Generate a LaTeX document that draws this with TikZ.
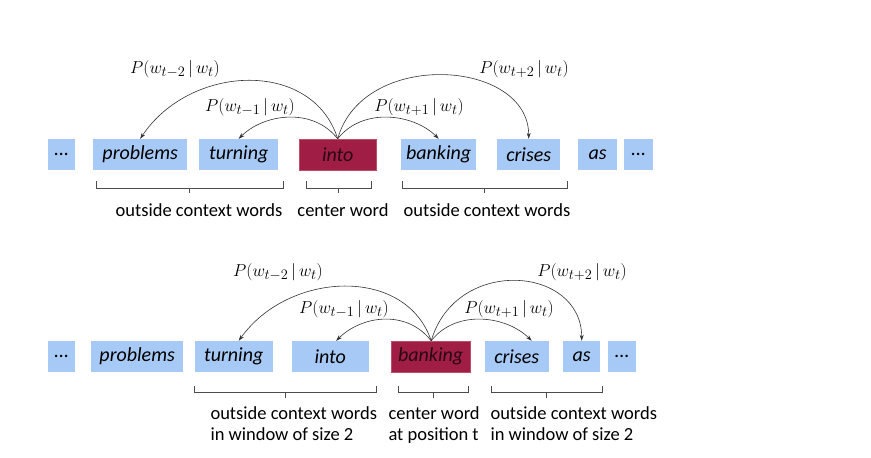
\documentclass[tikz,border=0pt]{standalone}
\usepackage{fontspec}
\setmainfont{Carlito}
\usetikzlibrary{arrows.meta}
\definecolor{wblue}{RGB}{166,201,245}
\definecolor{wred}{RGB}{160,30,70}
\begin{document}
\begin{tikzpicture}[x=1pt,y=-1pt,
  w/.style={fill=wblue,minimum height=31pt,inner sep=0pt,font=\fontsize{20}{20}\selectfont\itshape,anchor=west},
  c/.style={w,fill=wred,draw=wred!70!pink,text=black!75!wred},
  arr/.style={-{Stealth[length=6pt,width=4pt]},line width=0.6pt,black!80},
  lab/.style={font=\fontsize{19}{19}\selectfont},
  br/.style={line width=0.6pt,black!70},
  txt/.style={font=\fontsize{18.5}{21}\selectfont,align=left}]
\useasboundingbox (0,0) rectangle (871,458);
% top row
\begin{scope}[yshift=-154.5pt]
\node[w,minimum width=27pt] (a1) at (48,0) {...};
\node[w,minimum width=94pt] (a2) at (93,0) {problems};
\node[w,minimum width=79pt] (a3) at (199,0) {turning};
\node[c,minimum width=77pt] (a4) at (299,0) {into};
\node[w,minimum width=75pt] (a5) at (401,0) {banking};
\node[w,minimum width=63pt] (a6) at (497,0) {crises};
\node[w,minimum width=39pt] (a7) at (578,0) {as};
\node[w,minimum width=29pt] (a8) at (624,0) {...};
\end{scope}
\draw[arr] (a4.north) .. controls +(-25,-80) and +(50,-75) .. (a2.north);
\draw[arr] (a4.north) .. controls +(-25,-32) and +(25,-25) .. (a3.north);
\draw[arr] (a4.north) .. controls +(25,-32) and +(-25,-25) .. (a5.north);
\draw[arr] (a4.north) .. controls +(25,-90) and +(0,-80) .. (a6.north);
\node[lab] (l1) at (175,69) {$P(w_{t-2}\,|\,w_t)$};
\node[lab] (l2) at (250,107) {$P(w_{t-1}\,|\,w_t)$};
\node[lab] (l3) at (419,107) {$P(w_{t+1}\,|\,w_t)$};
\node[lab] (l4) at (524,69) {$P(w_{t+2}\,|\,w_t)$};
\draw[br] (96,181) -- (96,188) -- (283,188) -- (283,181) (189.5,188) -- (189.5,193);
\draw[br] (306,181) -- (306,188) -- (371,188) -- (371,181) (338.5,188) -- (338.5,193);
\draw[br] (402,181) -- (402,188) -- (567,188) -- (567,181) (484.5,188) -- (484.5,193);
\node[txt] (t1) at (199,210) {outside context words};
\node[txt] (t2) at (343,210) {center word};
\node[txt] (t3) at (487,210) {outside context words};
% bottom row
\begin{scope}[yshift=-356.5pt]
\node[w,minimum width=27pt] (b1) at (48,0) {...};
\node[w,minimum width=92pt] (b2) at (91,0) {problems};
\node[w,minimum width=78pt] (b3) at (194.5,0) {turning};
\node[w,minimum width=77pt] (b4) at (291.5,0) {into};
\node[c,minimum width=79pt] (b5) at (391,0) {banking};
\node[w,minimum width=64pt] (b6) at (484.5,0) {crises};
\node[w,minimum width=37pt] (b7) at (563,0) {as};
\node[w,minimum width=28pt] (b8) at (608,0) {...};
\end{scope}
\coordinate (s) at ([xshift=0.5pt]b5.north);
\draw[arr] (s) .. controls +(-25,-75) and +(50,-70) .. ([xshift=5pt]b3.north);
\draw[arr] (s) .. controls +(-25,-32) and +(25,-25) .. ([xshift=6pt]b4.north);
\draw[arr] (s) .. controls +(25,-32) and +(-25,-25) .. ([xshift=15pt]b6.north);
\draw[arr] (s) .. controls +(25,-85) and +(0,-75) .. (b7.north);
\node[lab] (m1) at (278,272) {$P(w_{t-2}\,|\,w_t)$};
\node[lab] (m2) at (344,309) {$P(w_{t-1}\,|\,w_t)$};
\node[lab] (m3) at (509,309) {$P(w_{t+1}\,|\,w_t)$};
\node[lab] (m4) at (582,272) {$P(w_{t+2}\,|\,w_t)$};
\draw[br] (194.5,386) -- (194.5,392) -- (376,392) -- (376,386) (285,392) -- (285,398);
\draw[br] (398,386) -- (398,392) -- (468,392) -- (468,386) (433,392) -- (433,398);
\draw[br] (491,386) -- (491,392) -- (602,392) -- (602,386) (546.5,392) -- (546.5,398);
\node[txt,anchor=north west] (u1) at (207,403) {outside context words\\in window of size 2};
\node[txt,anchor=north west] (u2) at (385,403) {center word\\at position t};
\node[txt,anchor=north west] (u3) at (487,403) {outside context words\\in window of size 2};
\end{tikzpicture}
\end{document}
